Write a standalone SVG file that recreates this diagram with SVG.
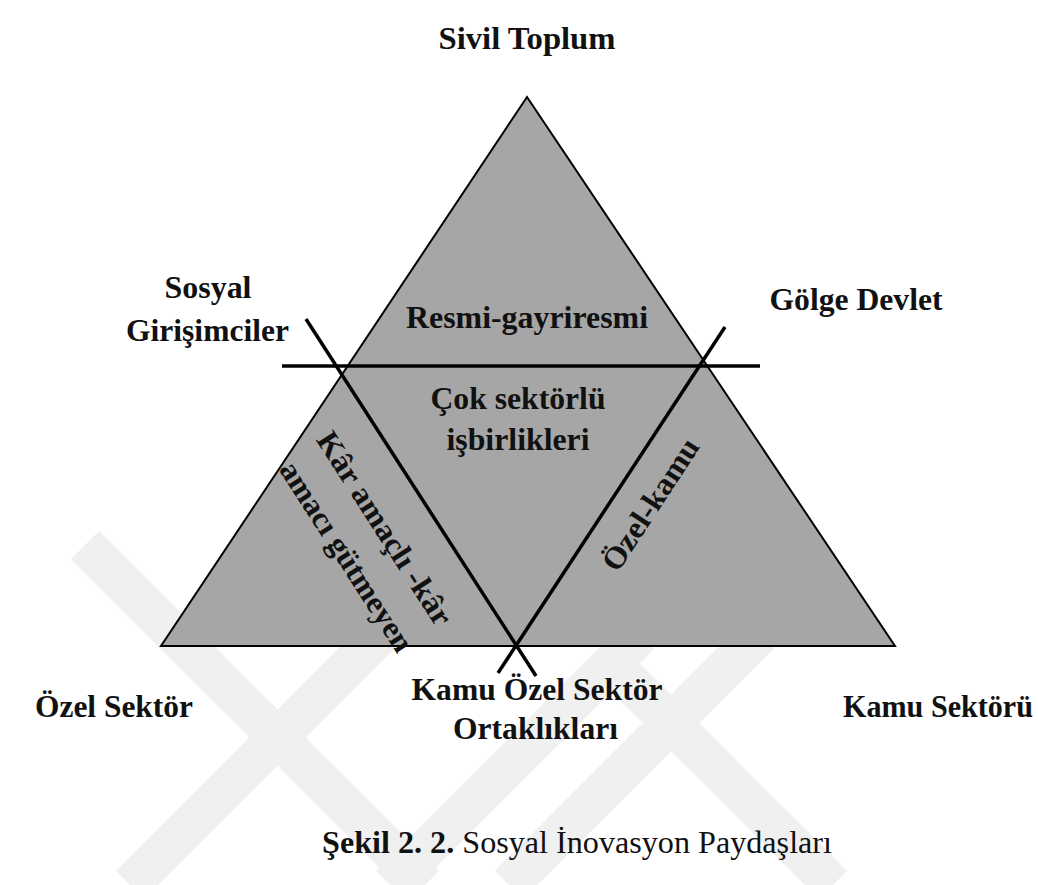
<svg xmlns="http://www.w3.org/2000/svg" width="1038" height="885" viewBox="0 0 1038 885">
  <style>
    .wm { fill: none; stroke: #f0f0f0; stroke-width: 40; stroke-linecap: butt; }
    .tri { fill: #a6a6a6; stroke: #000; stroke-width: 2; stroke-linejoin: miter; }
    .cut { stroke: #000; stroke-width: 3.5; fill: none; }
    .lbl { font-family: "Liberation Serif", "Times New Roman", serif; font-weight: bold; font-size: 31px; fill: #111; }
    .mid { text-anchor: middle; }
    .cap { font-family: "Liberation Serif", "Times New Roman", serif; font-size: 32px; fill: #111; }
  </style>
  <rect width="1038" height="885" fill="#fff"/>
  <g id="watermark">
    <line class="wm" x1="85" y1="545" x2="425" y2="885"/>
    <line class="wm" x1="130" y1="885" x2="380" y2="635"/>
    <line class="wm" x1="390" y1="885" x2="640" y2="635"/>
    <line class="wm" x1="509" y1="885" x2="760" y2="634"/>
    <line class="wm" x1="600" y1="652" x2="833" y2="885"/>
  </g>
  <g id="triangle">
    <polygon class="tri" points="527,97 161,646 895,646"/>
  </g>
  <g id="connectors">
    <line class="cut" x1="282" y1="366" x2="760" y2="366"/>
    <line class="cut" x1="306" y1="319" x2="536" y2="676"/>
    <line class="cut" x1="725" y1="327" x2="498" y2="673"/>
  </g>
  <g id="sivil-toplum"><text class="lbl mid" x="527" y="49" textLength="177" lengthAdjust="spacingAndGlyphs">Sivil Toplum</text></g>
  <g id="sosyal-girisimciler">
    <text class="lbl mid" x="208" y="298" textLength="87" lengthAdjust="spacingAndGlyphs">Sosyal</text>
    <text class="lbl mid" x="207.5" y="341" textLength="163" lengthAdjust="spacingAndGlyphs">Girişimciler</text>
  </g>
  <g id="golge-devlet"><text class="lbl mid" x="856" y="310" textLength="173" lengthAdjust="spacingAndGlyphs">Gölge Devlet</text></g>
  <g id="resmi-gayriresmi"><text class="lbl mid" x="527" y="328" textLength="242" lengthAdjust="spacingAndGlyphs">Resmi-gayriresmi</text></g>
  <g id="cok-sektorlu">
    <text class="lbl mid" x="518" y="409" textLength="175" lengthAdjust="spacingAndGlyphs">Çok sektörlü</text>
    <text class="lbl mid" x="518" y="450" textLength="143" lengthAdjust="spacingAndGlyphs">işbirlikleri</text>
  </g>
  <g id="ozel-kamu"><text class="lbl mid" transform="translate(659,510) rotate(-56.8)" textLength="152" lengthAdjust="spacingAndGlyphs">Özel-kamu</text></g>
  <g id="kar-amacli">
    <text class="lbl mid" transform="translate(376,534) rotate(57.3)" textLength="224" lengthAdjust="spacingAndGlyphs">Kâr amaçlı -kâr</text>
    <text class="lbl mid" transform="translate(338,562) rotate(57.3)" textLength="220" lengthAdjust="spacingAndGlyphs">amacı gütmeyen</text>
  </g>
  <g id="ozel-sektor"><text class="lbl mid" x="114" y="717" textLength="158" lengthAdjust="spacingAndGlyphs">Özel Sektör</text></g>
  <g id="kamu-ozel-sektor">
    <text class="lbl mid" x="537" y="700" textLength="251" lengthAdjust="spacingAndGlyphs">Kamu Özel Sektör</text>
    <text class="lbl mid" x="535.5" y="739" textLength="165" lengthAdjust="spacingAndGlyphs">Ortaklıkları</text>
  </g>
  <g id="kamu-sektoru"><text class="lbl mid" x="938" y="717" textLength="190" lengthAdjust="spacingAndGlyphs">Kamu Sektörü</text></g>
  <g id="caption"><text class="cap" x="322" y="853" textLength="510" lengthAdjust="spacingAndGlyphs"><tspan font-weight="bold">Şekil 2. 2.</tspan> Sosyal İnovasyon Paydaşları</text></g>
</svg>
